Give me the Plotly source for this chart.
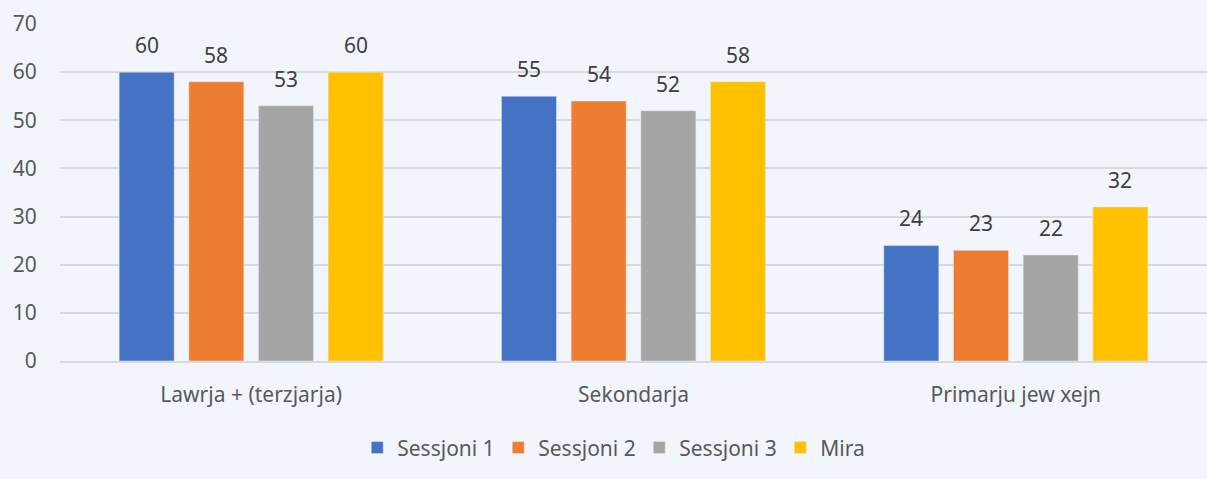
import plotly.graph_objects as go

categories = ["Lawrja + (terzjarja)", "Sekondarja", "Primarju jew xejn"]
series_names = ["Sessjoni 1", "Sessjoni 2", "Sessjoni 3", "Mira"]
sessjoni1 = [60, 55, 24]
sessjoni2 = [58, 54, 23]
sessjoni3 = [53, 52, 22]
mira = [60, 58, 32]
colors = ["#4472C4", "#ED7D31", "#A5A5A5", "#FFC000"]

W, H = 1207, 479
ML, MR, MT, MB = 60, 0, 24, 118
BARGAP, BARGROUPGAP = 0.271, 0.21
font_family = "Noto Sans, Open Sans, sans-serif"

fig = go.Figure()
all_vals = [sessjoni1, sessjoni2, sessjoni3, mira]
for name, vals, col in zip(series_names, all_vals, colors):
    fig.add_trace(go.Bar(name=name, x=categories, y=vals, marker_color=col))

# value labels positioned above each bar via annotations
plot_w = W - ML - MR
cat_w = plot_w / len(categories)
stride = cat_w * (1 - BARGAP) / len(series_names)
n = len(series_names)
for i, vals in enumerate(all_vals):
    for c, v in zip(categories, vals):
        fig.add_annotation(x=c, y=v, text=str(v), showarrow=False,
                           xshift=(i - (n - 1) / 2) * stride, yshift=27,
                           yanchor="middle", xanchor="center",
                           font=dict(size=21, color="#404040", family=font_family))

fig.update_layout(
    width=W, height=H,
    paper_bgcolor="#F2F5FC", plot_bgcolor="#F2F5FC",
    margin=dict(l=ML, r=MR, t=MT, b=MB),
    barmode="group", bargap=BARGAP, bargroupgap=BARGROUPGAP,
    font=dict(family=font_family, color="#595959", size=21),
    legend=dict(orientation="h", x=0.505, xanchor="center", y=-0.258, yanchor="middle",
                font=dict(size=21, color="#595959"), itemwidth=30, traceorder="normal",
                entrywidth=96, entrywidthmode="pixels"),
    showlegend=True,
)
fig.update_yaxes(range=[0, 70], dtick=10, showgrid=True, gridcolor="#D9D9D9", gridwidth=2,
                 zeroline=False, ticks="outside", ticklen=18, tickcolor="rgba(0,0,0,0)",
                 tickfont=dict(size=21, color="#595959"))
fig.update_xaxes(showline=True, linecolor="#D9D9D9", linewidth=2, ticks="outside", ticklen=14,
                 tickcolor="rgba(0,0,0,0)", tickfont=dict(size=21, color="#595959"))
fig.write_html("out.html", config={"displayModeBar": False},
               post_script="document.body.style.margin='0';document.body.style.background='#F2F5FC';")
